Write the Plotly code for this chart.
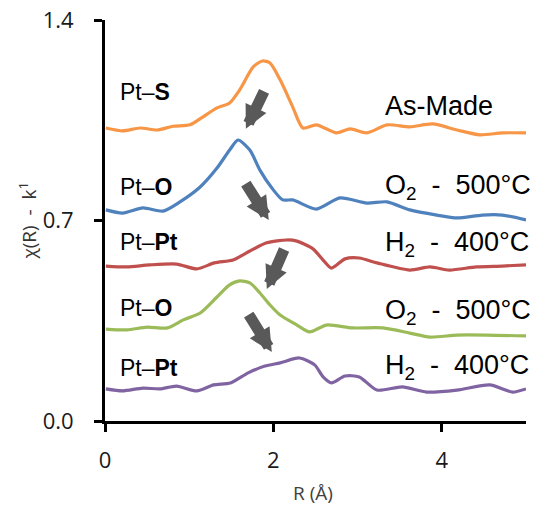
import plotly.graph_objects as go

# Data (R in Å, chi(R) offset values)
r_asmade = [0.01, 0.21, 0.42, 0.62, 0.81, 1.01, 1.16, 1.33, 1.48, 1.60, 1.76, 1.87, 1.96, 2.08, 2.23, 2.35, 2.51, 2.75, 2.91, 3.11, 3.35, 3.62, 3.89, 4.18, 4.45, 4.72, 5.0]
v_asmade = [1.023, 1.013, 1.023, 1.016, 1.029, 1.034, 1.061, 1.093, 1.110, 1.156, 1.236, 1.257, 1.250, 1.191, 1.096, 1.023, 1.034, 1.006, 1.020, 1.006, 1.034, 1.027, 1.037, 1.016, 0.999, 1.006, 1.006]

r_o2a = [0.01, 0.21, 0.45, 0.69, 0.89, 1.13, 1.33, 1.48, 1.58, 1.72, 1.84, 1.98, 2.11, 2.23, 2.51, 2.79, 3.11, 3.35, 3.62, 3.94, 4.18, 4.48, 4.72, 5.0]
v_o2a = [0.737, 0.726, 0.744, 0.733, 0.765, 0.817, 0.883, 0.946, 0.981, 0.946, 0.876, 0.814, 0.772, 0.772, 0.740, 0.779, 0.761, 0.765, 0.737, 0.719, 0.709, 0.719, 0.719, 0.702]

r_h2a = [0.01, 0.26, 0.53, 0.85, 1.09, 1.30, 1.52, 1.68, 1.92, 2.16, 2.28, 2.47, 2.59, 2.69, 2.85, 3.02, 3.23, 3.62, 3.86, 4.09, 4.41, 4.72, 5.0]
v_h2a = [0.541, 0.538, 0.545, 0.548, 0.531, 0.552, 0.562, 0.587, 0.622, 0.632, 0.628, 0.601, 0.562, 0.534, 0.566, 0.569, 0.552, 0.527, 0.538, 0.527, 0.538, 0.541, 0.545]

r_o2b = [0.01, 0.26, 0.50, 0.74, 0.93, 1.13, 1.33, 1.48, 1.60, 1.72, 1.84, 1.96, 2.08, 2.28, 2.43, 2.63, 2.94, 3.30, 3.62, 3.86, 4.18, 4.53, 5.0]
v_o2b = [0.321, 0.318, 0.328, 0.325, 0.353, 0.377, 0.433, 0.475, 0.489, 0.482, 0.447, 0.405, 0.370, 0.335, 0.311, 0.335, 0.325, 0.325, 0.307, 0.293, 0.300, 0.300, 0.297]

r_h2b = [0.01, 0.21, 0.45, 0.65, 0.85, 1.09, 1.29, 1.49, 1.70, 1.90, 2.08, 2.31, 2.49, 2.59, 2.69, 2.85, 3.02, 3.23, 3.53, 3.82, 4.18, 4.57, 4.84, 5.0]
v_h2b = [0.112, 0.105, 0.115, 0.112, 0.122, 0.105, 0.126, 0.133, 0.168, 0.192, 0.203, 0.220, 0.196, 0.154, 0.133, 0.157, 0.154, 0.108, 0.119, 0.101, 0.108, 0.126, 0.101, 0.112]

series = [
    (r_asmade, v_asmade, "#F79646"),
    (r_o2a, v_o2a, "#4F81BD"),
    (r_h2a, v_h2a, "#C0504D"),
    (r_o2b, v_o2b, "#9BBB59"),
    (r_h2b, v_h2b, "#8064A2"),
]

left_labels = ["Pt\u2013<b>S</b>", "Pt\u2013<b>O</b>", "Pt\u2013<b>Pt</b>", "Pt\u2013<b>O</b>", "Pt\u2013<b>Pt</b>"]
left_label_y = [1.149, 0.817, 0.625, 0.395, 0.185]
right_labels = ["As-Made",
                "O<sub>2</sub>\u00a0\u00a0-\u00a0\u00a0500\u00b0C",
                "H<sub>2</sub>\u00a0\u00a0-\u00a0\u00a0400\u00b0C",
                "O<sub>2</sub>\u00a0\u00a0-\u00a0\u00a0500\u00b0C",
                "H<sub>2</sub>\u00a0\u00a0-\u00a0\u00a0400\u00b0C"]
right_label_y = [1.100, 0.817, 0.618, 0.381, 0.189]

# arrows: (tail R, tail v, tip R, tip v)
arrows = [
    (1.898, 1.156, 1.673, 1.020),
    (1.661, 0.834, 1.945, 0.702),
    (2.135, 0.604, 1.922, 0.461),
    (1.696, 0.377, 1.981, 0.241),
]

FONT = "Liberation Sans, Arial, sans-serif"
TICKFONT = "Open Sans, sans-serif"

fig = go.Figure()
for r, v, c in series:
    fig.add_trace(go.Scatter(x=r, y=v, mode="lines",
                             line=dict(color=c, width=3.2, shape="spline", smoothing=0.7),
                             showlegend=False, hoverinfo="skip"))

ann = []
for t, y in zip(left_labels, left_label_y):
    ann.append(dict(x=0.154, y=y, xref="x", yref="y", text=t, showarrow=False,
                    xanchor="left", yanchor="middle",
                    font=dict(family=FONT, size=23, color="black")))
for t, y in zip(right_labels, right_label_y):
    ann.append(dict(x=3.30, y=y, xref="x", yref="y", text=t, showarrow=False,
                    xanchor="left", yanchor="middle",
                    font=dict(family=FONT, size=27, color="black")))
for ax_, ay_, x_, y_ in arrows:
    ann.append(dict(x=x_, y=y_, ax=ax_, ay=ay_, xref="x", yref="y", axref="x", ayref="y",
                    text="", showarrow=True, arrowhead=2, arrowsize=0.42, arrowwidth=11,
                    arrowcolor="#595959", standoff=0, startstandoff=0))
ann.append(dict(x=-0.185, y=0.5, xref="paper", yref="paper",
                text="\u03c7(R)\u00a0\u00a0-\u00a0\u00a0k<sup>1</sup>", textangle=-90,
                showarrow=False, xanchor="center", yanchor="middle",
                font=dict(family=TICKFONT, size=19, color="#333333")))
ann.append(dict(x=0.495, y=-0.18, xref="paper", yref="paper", text="R (\u00c5)",
                showarrow=False, xanchor="center", yanchor="middle",
                font=dict(family=TICKFONT, size=19, color="#404040")))

axis_common = dict(showgrid=False, zeroline=False, showline=True, linecolor="black", linewidth=3,
                   ticks="outside", ticklen=8, tickwidth=3, tickcolor="black",
                   tickfont=dict(family=TICKFONT, size=22, color="#1a1a1a"),
                   automargin=False, ticklabeloverflow="allow")

# page has an 8px body margin, so the figure is sized 8px smaller than the window
fig.update_layout(
    template="none",
    width=533, height=499,
    margin=dict(l=97, r=15, t=12, b=86),
    plot_bgcolor="white", paper_bgcolor="white",
    annotations=ann,
    xaxis=dict(range=[0, 5], tickvals=[0, 2, 4], ticktext=["0", "2", "4"],
               ticklabelstandoff=10, **axis_common),
    yaxis=dict(range=[0, 1.4], tickvals=[0, 0.7, 1.4], ticktext=["0.0", "0.7", "1.4"],
               ticklabelstandoff=16, **axis_common),
)

fig.write_html("out.html")
